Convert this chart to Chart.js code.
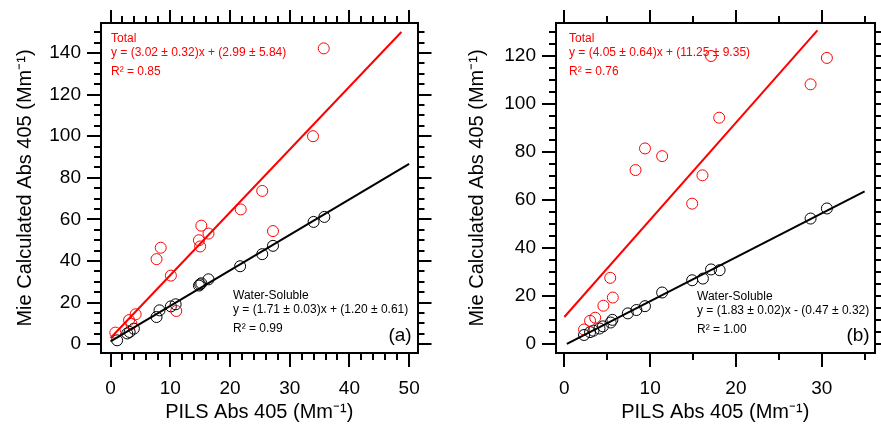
<!DOCTYPE html>
<html>
<head>
<meta charset="utf-8">
<script src="https://cdn.jsdelivr.net/npm/chart.js@4.4.1/dist/chart.umd.min.js"></script>
<style>
  body { margin: 0; background: #fff; }
  #wrap { position: relative; width: 881px; height: 424px; }
  canvas { position: absolute; top: 0; }
  #chartA { left: 0; }
  #chartB { left: 440px; }
</style>
</head>
<body>
<div id="wrap">
  <canvas id="chartA" width="440" height="424"></canvas>
  <canvas id="chartB" width="441" height="424"></canvas>
</div>
<script>
// panel (a)
var pilsTotalA = [0.8, 3.1, 3.5, 4.2, 7.7, 8.4, 10.1, 11.0, 14.8, 15.0, 15.2, 16.4, 21.8, 25.4, 27.2, 33.9, 35.7];
var mieTotalA  = [5.6, 11.6, 9.8, 14.4, 40.9, 46.4, 33.0, 16.0, 50.0, 47.0, 57.0, 53.2, 64.8, 73.7, 54.4, 100.0, 142.2];
var pilsWsA    = [1.1, 2.8, 3.2, 3.9, 7.7, 8.2, 10.1, 10.9, 14.8, 15.0, 15.2, 16.4, 21.7, 25.4, 27.2, 34.0, 35.8];
var mieWsA     = [1.9, 5.2, 5.9, 7.5, 13.1, 16.3, 18.2, 19.2, 28.2, 28.8, 29.3, 31.2, 37.5, 43.3, 47.3, 58.8, 61.2];
var fitTotalXA = [0, 48.7];
var fitTotalYA = [3.0, 150.1];
var fitWsXA    = [0, 50];
var fitWsYA    = [1.4, 86.7];
var totalNoteA = ['Total', 'y = (3.02 ± 0.32)x + (2.99 ± 5.84)', 'R² = 0.85'];
var wsNoteA    = ['Water-Soluble', 'y = (1.71 ± 0.03)x + (1.20 ± 0.61)', 'R² = 0.99'];

// panel (b)
var pilsTotalB = [2.3, 3.0, 3.6, 4.55, 5.35, 5.65, 8.3, 9.4, 11.4, 14.9, 16.1, 17.1, 18.05, 28.7, 30.6];
var mieTotalB  = [6.1, 9.7, 11.0, 16.0, 27.6, 19.4, 72.5, 81.5, 78.3, 58.5, 70.3, 120.0, 94.3, 108.2, 119.2];
var pilsWsB    = [2.3, 3.0, 3.4, 4.1, 4.5, 5.4, 5.6, 7.4, 8.4, 9.4, 11.4, 14.9, 16.15, 17.1, 18.1, 28.7, 30.6];
var mieWsB     = [3.8, 5.0, 5.6, 6.5, 7.4, 9.0, 10.1, 12.8, 14.2, 15.8, 21.5, 26.6, 27.3, 31.1, 30.8, 52.3, 56.5];
var fitTotalXB = [0, 29.5];
var fitTotalYB = [11.3, 130.7];
var fitWsXB    = [0.3, 35];
var fitWsYB    = [0.1, 63.6];
var totalNoteB = ['Total', 'y = (4.05 ± 0.64)x + (11.25 ± 9.35)', 'R² = 0.76'];
var wsNoteB    = ['Water-Soluble', 'y = (1.83 ± 0.02)x - (0.47 ± 0.32)', 'R² = 1.00'];

var xTitle = 'PILS Abs 405 (Mm⁻¹)';
var yTitle = 'Mie Calculated Abs 405 (Mm⁻¹)';

var FONT = "'Liberation Sans', Arial, sans-serif";
var RED = '#ff0000';

function pairs(xs, ys) {
    var out = [];
    for (var i = 0; i < xs.length; i++) out.push({x: xs[i], y: ys[i]});
    return out;
}

function fixSize(size) {
    return function(scale) {
        if (scale.isHorizontal()) scale.height = size;
        else scale.width = size;
    };
}

// tick-only axis; weight 1 = outer (major, draws the frame), weight 0 = inner minor ticks
function tickAxis(axis, position, min, max, step, length, size, weight) {
    return {
        type: 'linear', axis: axis, position: position, min: min, max: max, weight: weight,
        grid: {drawOnChartArea: false, color: '#000', lineWidth: 2, tickLength: length},
        border: {display: weight == 1, color: '#000', width: 2},
        ticks: {display: false, stepSize: step, includeBounds: false},
        afterFit: fixSize(size)
    };
}

function labelAxis(axis, position, min, max, step, size, title, titlePad, tickPad) {
    var a = tickAxis(axis, position, min, max, step, 14, size, 1);
    a.ticks = {
        display: true, stepSize: step, includeBounds: false, autoSkip: false, maxRotation: 0,
        color: '#000', padding: tickPad, font: {family: FONT, size: 19}
    };
    a.title = {display: true, text: title, color: '#000', font: {family: FONT, size: 20}, padding: titlePad};
    return a;
}

var notesPlugin = {
    id: 'notes',
    beforeDatasetsDraw: function(chart, args, opts) {
        var ctx = chart.ctx;
        ctx.save();
        ctx.textBaseline = 'middle';
        ctx.textAlign = 'left';
        ctx.font = '12px ' + FONT;
        var gaps = [0, 14, 33];
        ctx.fillStyle = RED;
        for (var i = 0; i < opts.total.length; i++) ctx.fillText(opts.total[i], opts.totalAt[0], opts.totalAt[1] + gaps[i]);
        ctx.fillStyle = '#000';
        for (var j = 0; j < opts.ws.length; j++) ctx.fillText(opts.ws[j], opts.wsAt[0], opts.wsAt[1] + gaps[j]);
        ctx.font = '19px ' + FONT;
        ctx.textAlign = 'center';
        ctx.fillText(opts.label, opts.labelAt[0], opts.labelAt[1]);
        ctx.restore();
    }
};

function drawPanel(id, p) {
    var ctx = document.getElementById(id).getContext('2d');
    var datasets = [
        {data: pairs(p.fitTotalX, p.fitTotalY), showLine: true, borderColor: RED, borderWidth: 2, pointRadius: 0},
        {data: pairs(p.fitWsX, p.fitWsY), showLine: true, borderColor: '#000', borderWidth: 2, pointRadius: 0},
        {data: pairs(p.pilsTotal, p.mieTotal), borderColor: RED, backgroundColor: 'rgba(0,0,0,0)', borderWidth: 1, pointRadius: 5.5},
        {data: pairs(p.pilsWs, p.mieWs), borderColor: '#000', backgroundColor: 'rgba(0,0,0,0)', borderWidth: 1, pointRadius: 5.5}
    ];
    var s = p.sizes; // left, right, top, bottom
    var scales = {
        x: labelAxis('x', 'bottom', p.xMin, p.xMax, p.xMajor, s[3], xTitle, {top: 0, bottom: 0}, 10),
        xMinor: tickAxis('x', 'bottom', p.xMin, p.xMax, p.xMinor, 7, 0, 0),
        xTop: tickAxis('x', 'top', p.xMin, p.xMax, p.xMajor, 13, s[2], 1),
        xTopMinor: tickAxis('x', 'top', p.xMin, p.xMax, p.xMinor, 7, 0, 0),
        y: labelAxis('y', 'left', p.yMin, p.yMax, 20, s[0], yTitle, {top: p.yTitlePad, bottom: 0}, 6),
        yMinor: tickAxis('y', 'left', p.yMin, p.yMax, 5, 7, 0, 0),
        yRight: tickAxis('y', 'right', p.yMin, p.yMax, 20, 14, s[1], 1),
        yRightMinor: tickAxis('y', 'right', p.yMin, p.yMax, 5, 7, 0, 0)
    };
    return new Chart(ctx, {
        type: 'scatter',
        data: {datasets: datasets},
        options: {
            responsive: false,
            animation: false,
            devicePixelRatio: 1,
            layout: {padding: 0, autoPadding: false},
            scales: scales,
            plugins: {
                legend: {display: false},
                tooltip: {enabled: false},
                notes: p.notes
            }
        },
        plugins: [notesPlugin]
    });
}

drawPanel('chartA', {
    pilsTotal: pilsTotalA, mieTotal: mieTotalA, pilsWs: pilsWsA, mieWs: mieWsA,
    fitTotalX: fitTotalXA, fitTotalY: fitTotalYA, fitWsX: fitWsXA, fitWsY: fitWsYA,
    xMin: -1.6, xMax: 51.4, xMajor: 10, xMinor: 2,
    yMin: -4.2, yMax: 154.4,
    sizes: [101, 22.5, 23, 71], yTitlePad: 13,
    notes: {total: totalNoteA, totalAt: [111, 39], ws: wsNoteA, wsAt: [233, 295.5], label: '(a)', labelAt: [400, 336]}
});

drawPanel('chartB', {
    pilsTotal: pilsTotalB, mieTotal: mieTotalB, pilsWs: pilsWsB, mieWs: mieWsB,
    fitTotalX: fitTotalXB, fitTotalY: fitTotalYB, fitWsX: fitWsXB, fitWsY: fitWsYB,
    xMin: -0.97, xMax: 36.15, xMajor: 10, xMinor: 5,
    yMin: -3.7, yMax: 133.75,
    sizes: [116, 6.5, 23, 71], yTitlePad: 25.5,
    notes: {total: totalNoteB, totalAt: [129, 39], ws: wsNoteB, wsAt: [257, 297], label: '(b)', labelAt: [418, 336]}
});
</script>
</body>
</html>
